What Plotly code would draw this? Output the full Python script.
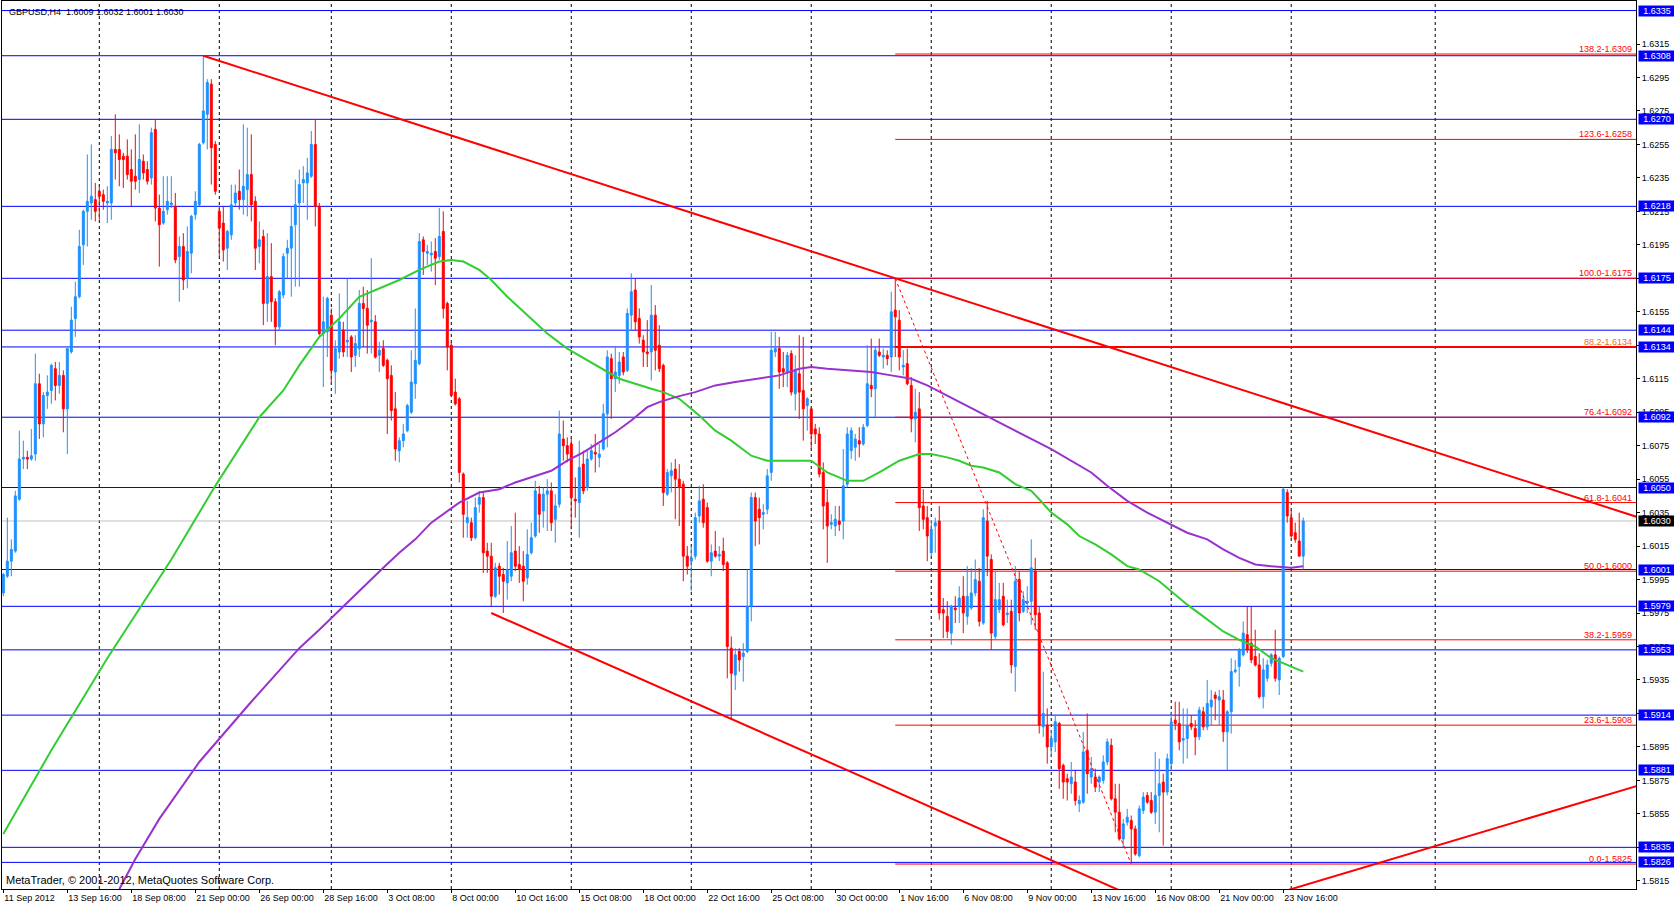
import plotly.graph_objects as go

# GBPUSD H4 bars, prices in points (1 point = 0.0001)
open_pts = [
    15987, 15997, 16006, 16012, 16043, 16067, 16068, 16067, 16070, 16112,
    16088, 16105, 16108, 16121, 16111, 16117, 16097, 16131, 16151, 16164,
    16195, 16215, 16220, 16222, 16227, 16225, 16220, 16220, 16252, 16252,
    16248, 16248, 16240, 16236, 16234, 16245, 16240, 16235, 16264, 16217,
    16208, 16216, 16219, 16218, 16188, 16194, 16175, 16190, 16213, 16219,
    16256, 16273, 16291, 16255, 16215, 16208, 16193, 16201, 16220, 16227,
    16222, 16228, 16237, 16221, 16194, 16200, 16160, 16176, 16161, 16146,
    16165, 16190, 16193, 16207, 16220, 16232, 16232, 16236, 16255, 16218,
    16142, 16143, 16153, 16119, 16131, 16144, 16137, 16140, 16129, 16133,
    16160, 16157, 16149, 16149, 16129, 16133, 16126, 16117, 16097, 16072,
    16078, 16084, 16095, 16112, 16124, 16198, 16190, 16189, 16191, 16188,
    16203, 16160, 16135, 16107, 16103, 16058, 16029, 16029, 16020, 16040,
    16044, 16012, 16009, 15985, 16003, 15998, 15993, 15997, 16012, 16004,
    16003, 15996, 16011, 16021, 16046, 16036, 16046, 16048, 16031, 16040,
    16079, 16075, 16076, 16043, 16041, 16064, 16050, 16067, 16071, 16068,
    16073, 16094, 16127, 16115, 16117, 16128, 16120, 16153, 16168, 16151,
    16138, 16131, 16131, 16153, 16135, 16123, 16046, 16057, 16061, 16055,
    16052, 16009, 16006, 16009, 16033, 16043, 16038, 16006, 16012, 16009,
    16012, 16005, 15954, 15938, 15952, 15949, 15952, 15979, 16044, 16037,
    16034, 16037, 16059, 16131, 16133, 16121, 16119, 16130, 16106, 16118,
    16108, 16099, 16097, 16085, 16082, 16059, 16041, 16028, 16027, 16030,
    16030, 16052, 16072, 16074, 16078, 16076, 16087, 16111, 16109, 16131,
    16128, 16129, 16128, 16156, 16150, 16122, 16124, 16111, 16091, 16097,
    16039, 16032, 16011, 16027, 16030, 15977, 15973, 15963, 15978, 15979,
    15985, 15973, 15978, 15987, 15994, 15969, 16030, 16007, 15961, 15977,
    15985, 15974, 15976, 15943, 15995, 15976, 15981, 15982, 16000, 15975,
    15907, 15908, 15895, 15898, 15909, 15884, 15876, 15873, 15874, 15861,
    15862, 15893, 15877, 15877, 15874, 15875, 15886, 15896, 15864, 15856,
    15840, 15850, 15851, 15846, 15830, 15857, 15866, 15863, 15856, 15866,
    15874, 15868, 15885, 15911, 15909, 15899, 15900, 15909, 15906, 15901,
    15916, 15907, 15919, 15926, 15923, 15923, 15904, 15916, 15940, 15943,
    15950, 15962, 15957, 15949, 15944, 15925, 15936, 15945, 15950, 15935,
    15949, 16047, 16032, 16023, 16018, 16009,
]
high_pts = [
    15999, 16032, 16019, 16048, 16084, 16078, 16072, 16085, 16130, 16118,
    16107, 16117, 16124, 16125, 16125, 16120, 16133, 16158, 16173, 16204,
    16216, 16249, 16255, 16232, 16230, 16228, 16230, 16260, 16273, 16261,
    16250, 16258, 16252, 16261, 16267, 16249, 16245, 16265, 16270, 16225,
    16236, 16236, 16236, 16226, 16200, 16202, 16206, 16213, 16227, 16256,
    16308, 16294, 16294, 16257, 16218, 16218, 16204, 16231, 16231, 16240,
    16267, 16265, 16261, 16224, 16209, 16204, 16202, 16196, 16163, 16168,
    16190, 16198, 16218, 16234, 16240, 16242, 16247, 16263, 16270, 16220,
    16164, 16164, 16157, 16138, 16166, 16149, 16175, 16141, 16141, 16168,
    16170, 16168, 16187, 16153, 16137, 16138, 16127, 16123, 16107, 16080,
    16088, 16100, 16132, 16157, 16202, 16200, 16195, 16197, 16199, 16217,
    16215, 16161, 16137, 16115, 16104, 16059, 16042, 16032, 16044, 16048,
    16047, 16017, 16017, 16005, 16005, 16002, 16018, 16027, 16035, 16015,
    16012, 16025, 16029, 16054, 16051, 16050, 16055, 16053, 16046, 16096,
    16090, 16080, 16080, 16056, 16078, 16072, 16072, 16076, 16082, 16076,
    16100, 16132, 16130, 16134, 16131, 16131, 16157, 16178, 16175, 16157,
    16141, 16150, 16171, 16159, 16147, 16124, 16061, 16065, 16067, 16064,
    16054, 16015, 16015, 16035, 16051, 16052, 16041, 16016, 16024, 16015,
    16020, 16006, 15961, 15954, 15954, 15957, 16001, 16047, 16047, 16044,
    16040, 16061, 16143, 16143, 16140, 16131, 16131, 16132, 16129, 16141,
    16140, 16104, 16098, 16088, 16086, 16065, 16049, 16034, 16039, 16039,
    16073, 16086, 16086, 16082, 16086, 16088, 16135, 16139, 16134, 16139,
    16133, 16132, 16167, 16175, 16156, 16132, 16133, 16116, 16109, 16107,
    16049, 16039, 16029, 16032, 16039, 15984, 15982, 15980, 15985, 15991,
    15997, 16003, 16002, 16007, 16002, 16037, 16042, 16010, 16000, 15993,
    15993, 15983, 15983, 16003, 16000, 15988, 15991, 16019, 16008, 15979,
    15940, 15918, 15905, 15914, 15910, 15885, 15879, 15886, 15881, 15866,
    15904, 15915, 15889, 15882, 15878, 15890, 15900, 15900, 15873, 15873,
    15852, 15858, 15854, 15848, 15860, 15868, 15868, 15868, 15892, 15888,
    15879, 15891, 15916, 15922, 15922, 15918, 15918, 15914, 15911, 15919,
    15919, 15935, 15929, 15928, 15929, 15929, 15917, 15948, 15947, 15954,
    15970, 15979, 15979, 15965, 15951, 15948, 15947, 15951, 15965, 15949,
    16050, 16049, 16037, 16029, 16035, 16032,
]
low_pts = [
    15985, 15996, 15997, 16011, 16042, 16061, 16061, 16066, 16066, 16079,
    16080, 16097, 16100, 16102, 16106, 16083, 16070, 16130, 16140, 16163,
    16183, 16194, 16210, 16209, 16210, 16216, 16208, 16210, 16234, 16230,
    16229, 16234, 16218, 16228, 16226, 16234, 16231, 16231, 16209, 16182,
    16207, 16213, 16217, 16184, 16161, 16168, 16169, 16178, 16210, 16218,
    16255, 16252, 16231, 16225, 16188, 16185, 16180, 16198, 16218, 16216,
    16213, 16212, 16209, 16180, 16184, 16147, 16149, 16149, 16135, 16144,
    16163, 16175, 16164, 16170, 16170, 16220, 16210, 16235, 16206, 16141,
    16110, 16128, 16112, 16106, 16127, 16128, 16128, 16119, 16122, 16128,
    16134, 16130, 16130, 16127, 16119, 16122, 16082, 16090, 16066, 16065,
    16074, 16083, 16094, 16103, 16123, 16177, 16183, 16179, 16171, 16186,
    16151, 16120, 16104, 16099, 16053, 16020, 16020, 16018, 16019, 16035,
    15999, 15999, 15979, 15984, 15986, 15975, 15983, 15994, 16000, 15993,
    15982, 15992, 16010, 16020, 16023, 16026, 16024, 16024, 16017, 16038,
    16066, 16065, 16025, 16032, 16020, 16046, 16048, 16066, 16059, 16062,
    16072, 16074, 16091, 16107, 16112, 16117, 16119, 16144, 16144, 16136,
    16122, 16122, 16114, 16120, 16119, 16039, 16045, 16047, 16031, 16027,
    15994, 15998, 15988, 16007, 16029, 16026, 16005, 15997, 16008, 16006,
    16000, 15936, 15911, 15929, 15940, 15934, 15951, 15970, 16015, 16016,
    16025, 16034, 16054, 16128, 16109, 16110, 16110, 16105, 16096, 16091,
    16078, 16084, 16073, 16076, 16056, 16025, 16005, 16025, 16021, 16024,
    16019, 16050, 16067, 16066, 16068, 16075, 16086, 16104, 16092, 16128,
    16121, 16123, 16119, 16128, 16120, 16117, 16111, 16083, 16077, 16024,
    16025, 16006, 16009, 16011, 15971, 15960, 15960, 15956, 15969, 15969,
    15963, 15968, 15977, 15985, 15967, 15968, 15997, 15953, 15959, 15975,
    15967, 15969, 15939, 15928, 15970, 15975, 15975, 15968, 15965, 15903,
    15901, 15885, 15889, 15892, 15870, 15864, 15863, 15867, 15860, 15856,
    15861, 15867, 15873, 15868, 15868, 15873, 15884, 15863, 15844, 15839,
    15835, 15848, 15826, 15830, 15829, 15855, 15861, 15855, 15849, 15844,
    15836, 15866, 15881, 15905, 15893, 15885, 15888, 15905, 15890, 15899,
    15905, 15905, 15908, 15911, 15908, 15898, 15881, 15903, 15939, 15931,
    15949, 15951, 15945, 15943, 15924, 15918, 15934, 15943, 15934, 15926,
    15948, 16029, 16020, 16017, 16009, 16001,
]
close_pts = [
    15998, 16006, 16013, 16045, 16067, 16068, 16067, 16069, 16112, 16088,
    16105, 16107, 16123, 16111, 16117, 16097, 16133, 16150, 16164, 16194,
    16215, 16221, 16224, 16215, 16224, 16221, 16221, 16252, 16250, 16246,
    16246, 16237, 16233, 16233, 16246, 16238, 16233, 16262, 16217, 16207,
    16215, 16221, 16220, 16186, 16194, 16174, 16191, 16212, 16221, 16255,
    16275, 16292, 16253, 16227, 16205, 16192, 16203, 16219, 16226, 16222,
    16230, 16237, 16219, 16193, 16198, 16160, 16176, 16161, 16146, 16167,
    16188, 16193, 16206, 16219, 16231, 16234, 16238, 16255, 16218, 16142,
    16149, 16163, 16120, 16133, 16149, 16131, 16138, 16128, 16136, 16160,
    16157, 16147, 16150, 16128, 16132, 16123, 16115, 16096, 16073, 16078,
    16082, 16099, 16113, 16126, 16197, 16191, 16191, 16190, 16187, 16200,
    16157, 16134, 16105, 16100, 16059, 16034, 16032, 16020, 16038, 16044,
    16011, 16009, 15985, 16002, 15997, 15994, 16001, 16011, 16003, 16001,
    15994, 16010, 16020, 16048, 16034, 16046, 16048, 16029, 16039, 16082,
    16075, 16070, 16044, 16042, 16062, 16048, 16067, 16072, 16070, 16070,
    16094, 16128, 16115, 16119, 16125, 16119, 16154, 16167, 16149, 16140,
    16131, 16130, 16153, 16132, 16121, 16047, 16059, 16060, 16055, 16050,
    16009, 16003, 16008, 16032, 16042, 16029, 16006, 16011, 16009, 16010,
    16004, 15955, 15939, 15950, 15947, 15951, 15979, 16044, 16030, 16032,
    16035, 16057, 16132, 16133, 16119, 16119, 16129, 16107, 16120, 16107,
    16097, 16103, 16082, 16082, 16058, 16039, 16027, 16029, 16031, 16028,
    16051, 16082, 16084, 16079, 16076, 16086, 16112, 16109, 16132, 16129,
    16129, 16127, 16155, 16152, 16128, 16123, 16112, 16091, 16095, 16038,
    16031, 16021, 16025, 16029, 15975, 15975, 15964, 15979, 15977, 15984,
    15975, 15985, 15987, 15995, 15970, 16032, 16009, 15963, 15983, 15983,
    15968, 15975, 15944, 15994, 15975, 15983, 15982, 16002, 15974, 15908,
    15915, 15895, 15900, 15910, 15882, 15874, 15874, 15877, 15863, 15863,
    15892, 15879, 15882, 15871, 15877, 15886, 15898, 15864, 15856, 15840,
    15849, 15853, 15846, 15831, 15858, 15865, 15862, 15856, 15866, 15873,
    15868, 15888, 15910, 15909, 15898, 15900, 15908, 15907, 15901, 15917,
    15907, 15921, 15923, 15924, 15925, 15904, 15916, 15940, 15941, 15953,
    15963, 15953, 15947, 15944, 15925, 15941, 15944, 15950, 15936, 15948,
    16049, 16033, 16021, 16019, 16009, 16030,
]

# moving averages, read at selected bars (points)
green_bars = [
    0, 12, 26, 42, 53, 64, 70, 74, 79, 84,
    89, 94, 99, 104, 109, 112, 115, 119, 122, 126,
    131, 136, 141, 146, 151, 154, 162, 165, 169, 174,
    178, 182, 187, 191, 198, 202, 206, 211, 215, 219,
    224, 229, 232, 236, 239, 242, 245, 249, 253, 257,
    259, 262, 266, 269, 273, 277, 281, 284, 289, 292,
    296, 300, 305, 309, 313, 317, 321, 325,
]
green_pts = [
    15843, 15893, 15948, 16007, 16051, 16092, 16108, 16123, 16140, 16151,
    16164, 16169, 16174, 16180, 16185, 16186, 16185, 16180, 16174, 16164,
    16153, 16142, 16133, 16126, 16119, 16115, 16109, 16107, 16103, 16093,
    16084, 16078, 16069, 16066, 16066, 16066, 16059, 16054, 16054, 16059,
    16066, 16070, 16070, 16068, 16066, 16063, 16062, 16059, 16052, 16048,
    16043, 16035, 16028, 16021, 16016, 16010, 16003, 16001, 15994, 15988,
    15980, 15973, 15964, 15959, 15955, 15948, 15944, 15940,
]
purple_bars = [
    29, 33, 39, 49, 62, 74, 79, 85, 91, 95,
    99, 103, 107, 111, 114, 119, 124, 128, 132, 137,
    141, 145, 149, 153, 157, 161, 164, 168, 173, 178,
    183, 189, 194, 199, 202, 206, 212, 217, 222, 227,
    231, 235, 239, 257, 262, 267, 272, 276, 281, 286,
    292, 296, 301, 305, 309, 313, 317, 322, 325,
]
purple_pts = [
    15810, 15828, 15852, 15886, 15922, 15954, 15965, 15979, 15993, 16002,
    16011, 16019, 16029, 16036, 16041, 16047, 16049, 16053, 16056, 16060,
    16066, 16071, 16077, 16083, 16090, 16098, 16101, 16104, 16107, 16111,
    16113, 16115, 16117, 16121, 16122, 16121, 16120, 16119, 16117, 16115,
    16111, 16106, 16101, 16079, 16073, 16066, 16059, 16051, 16042, 16035,
    16028, 16023, 16019, 16013, 16008, 16004, 16003, 16002, 16003,
]

# time axis labels (every 16 bars) and week separators
time_labels = [
    "11 Sep 2012", "13 Sep 16:00", "18 Sep 08:00", "21 Sep 00:00", "26 Sep 00:00",
    "28 Sep 16:00", "3 Oct 08:00", "8 Oct 00:00", "10 Oct 16:00", "15 Oct 08:00",
    "18 Oct 00:00", "22 Oct 16:00", "25 Oct 08:00", "30 Oct 00:00", "1 Nov 16:00",
    "6 Nov 08:00", "9 Nov 00:00", "13 Nov 16:00", "16 Nov 08:00", "21 Nov 00:00",
    "23 Nov 16:00",
]
label_bars = [0, 16, 32, 48, 64, 80, 96, 112, 128, 144, 160, 176, 192, 208,
              224, 240, 256, 272, 288, 304, 320]
week_bars = [24, 54, 82, 112, 142, 172, 202, 232, 262, 292, 322, 358]

price_ticks = [1.5815, 1.5835, 1.5855, 1.5875, 1.5895, 1.5915, 1.5935, 1.5955,
               1.5975, 1.5995, 1.6015, 1.6035, 1.6055, 1.6075, 1.6095, 1.6115,
               1.6135, 1.6155, 1.6175, 1.6195, 1.6215, 1.6235, 1.6255, 1.6275,
               1.6295, 1.6315]

# horizontal levels
levels = [1.6335, 1.6308, 1.6270, 1.6218, 1.6175, 1.6144, 1.6134, 1.6092,
          1.6050, 1.6001, 1.5979, 1.5953, 1.5914, 1.5881, 1.5835, 1.5826]
last_price = 1.6030

fib_names = ["138.2", "123.6", "100.0", "88.2", "76.4", "61.8", "50.0", "38.2", "23.6", "0.0"]
fib_prices = [1.6309, 1.6258, 1.6175, 1.6134, 1.6092, 1.6041, 1.6000, 1.5959, 1.5908, 1.5825]
fib_bars = [223, 282]
fib_ends = [1.6175, 1.5825]

# trend lines (bar, price) anchors
trend_top = [(50, 1.6308), (223, 1.6175)]
trend_low = [(122, 1.5975), (182, 1.59117)]
trend_up = [(364, 1.5840), (408, 1.58714)]

PT = 10000.0
FONT = "Liberation Sans"
x_rng = [-0.33, 408.2]
y_rng = [1.58101, 1.63407]


def to_price(pts):
    return [p / PT for p in pts]


def ray(anchors, x_from, x_to):
    (xa, ya), (xb, yb) = anchors
    k = (yb - ya) / (xb - xa)
    return [x_from, x_to], [ya + k * (x_from - xa), ya + k * (x_to - xa)]


bars = list(range(len(open_pts)))

fig = go.Figure()
fig.add_trace(go.Candlestick(
    x=bars, open=to_price(open_pts), high=to_price(high_pts),
    low=to_price(low_pts), close=to_price(close_pts),
    increasing=dict(line=dict(color="#1E90FF", width=1), fillcolor="#1E90FF"),
    decreasing=dict(line=dict(color="#FF0000", width=1), fillcolor="#FF0000"),
    whiskerwidth=0, showlegend=False, hoverinfo="skip"))

fig.add_trace(go.Scatter(x=green_bars, y=to_price(green_pts), mode="lines",
                         line=dict(color="#32CD32", width=2), showlegend=False))
fig.add_trace(go.Scatter(x=purple_bars, y=to_price(purple_pts), mode="lines",
                         line=dict(color="#9932CC", width=2), showlegend=False))

for anchors, start in [(trend_top, trend_top[0][0]), (trend_low, trend_low[0][0]),
                       (trend_up, 300)]:
    tx, ty = ray(anchors, start, 420)
    fig.add_trace(go.Scatter(x=tx, y=ty, mode="lines",
                             line=dict(color="#FF0000", width=2), showlegend=False))

fig.add_trace(go.Scatter(x=fib_bars, y=fib_ends, mode="lines",
                         line=dict(color="#FF0000", width=1, dash="dot"),
                         showlegend=False))

shapes = []
for b in week_bars:
    shapes.append(dict(type="line", xref="x", yref="paper", x0=b, x1=b, y0=0, y1=1,
                       line=dict(color="black", width=1, dash="3px,3px"), layer="below"))
shapes.append(dict(type="line", xref="paper", yref="y", x0=0, x1=1,
                   y0=last_price, y1=last_price,
                   line=dict(color="#C0C0C0", width=1), layer="below"))
for name, v in zip(fib_names, fib_prices):
    shapes.append(dict(type="line", xref="x", yref="y", x0=fib_bars[0], x1=x_rng[1],
                       y0=v, y1=v, layer="below",
                       line=dict(color="#FF0000", width=2 if name == "88.2" else 1)))
for v in levels:
    shapes.append(dict(type="line", xref="paper", yref="y", x0=0, x1=1, y0=v, y1=v,
                       line=dict(color="#0000FF", width=1), layer="below"))

ann = []
for name, v in zip(fib_names, fib_prices):
    ann.append(dict(xref="paper", yref="y", x=1, y=v, xanchor="right", yanchor="bottom",
                    xshift=-2, yshift=-2, text=f"{name}-{v:.4f}", showarrow=False,
                    font=dict(family=FONT, size=9,
                              color="#F07020" if name == "88.2" else "#FF0000")))
for v in levels:
    ann.append(dict(xref="paper", yref="y", x=1, y=v, xanchor="left", yanchor="middle",
                    xshift=2, text=f"{v:.4f}", showarrow=False, width=36, height=10,
                    borderpad=0, bgcolor="#0000FF",
                    font=dict(family=FONT, size=9, color="white")))
ann.append(dict(xref="paper", yref="y", x=1, y=last_price, xanchor="left",
                yanchor="middle", xshift=2, text=f"{last_price:.4f}", showarrow=False,
                width=36, height=10, borderpad=0, bgcolor="black",
                font=dict(family=FONT, size=9, color="white")))
ann.append(dict(xref="paper", yref="paper", x=0, y=1, xanchor="left", yanchor="top",
                xshift=5, yshift=-4, showarrow=False,
                text="GBPUSD,H4  1.6009 1.6032 1.6001 1.6030",
                font=dict(family=FONT, size=9, color="black")))
ann.append(dict(xref="paper", yref="paper", x=0, y=0, xanchor="left", yanchor="bottom",
                xshift=2, yshift=1, showarrow=False,
                text="MetaTrader, © 2001-2012, MetaQuotes Software Corp.",
                font=dict(family=FONT, size=11, color="black")))

fig.update_layout(
    width=1674, height=906,
    margin=dict(l=2, r=38, t=1, b=17),
    paper_bgcolor="white", plot_bgcolor="white",
    font=dict(family=FONT, size=9, color="black"),
    shapes=shapes, annotations=ann, showlegend=False,
    xaxis=dict(range=x_rng, showgrid=False, zeroline=False,
               rangeslider=dict(visible=False),
               tickvals=label_bars, ticktext=time_labels,
               ticks="outside", ticklen=3, tickcolor="black",
               ticklabelposition="outside right",
               tickfont=dict(family=FONT, size=9),
               showline=True, linecolor="black", linewidth=1, mirror=True),
    yaxis=dict(range=y_rng, side="right", showgrid=False, zeroline=False,
               tickvals=price_ticks, ticktext=[f"{v:.4f}" for v in price_ticks],
               ticks="outside", ticklen=3, tickcolor="black",
               tickfont=dict(family=FONT, size=9),
               showline=True, linecolor="black", linewidth=1, mirror=True),
)

fig.write_html("out.html", config={"displayModeBar": False},
               post_script="document.body.style.margin='0';"
                           "document.body.style.overflow='hidden';")
